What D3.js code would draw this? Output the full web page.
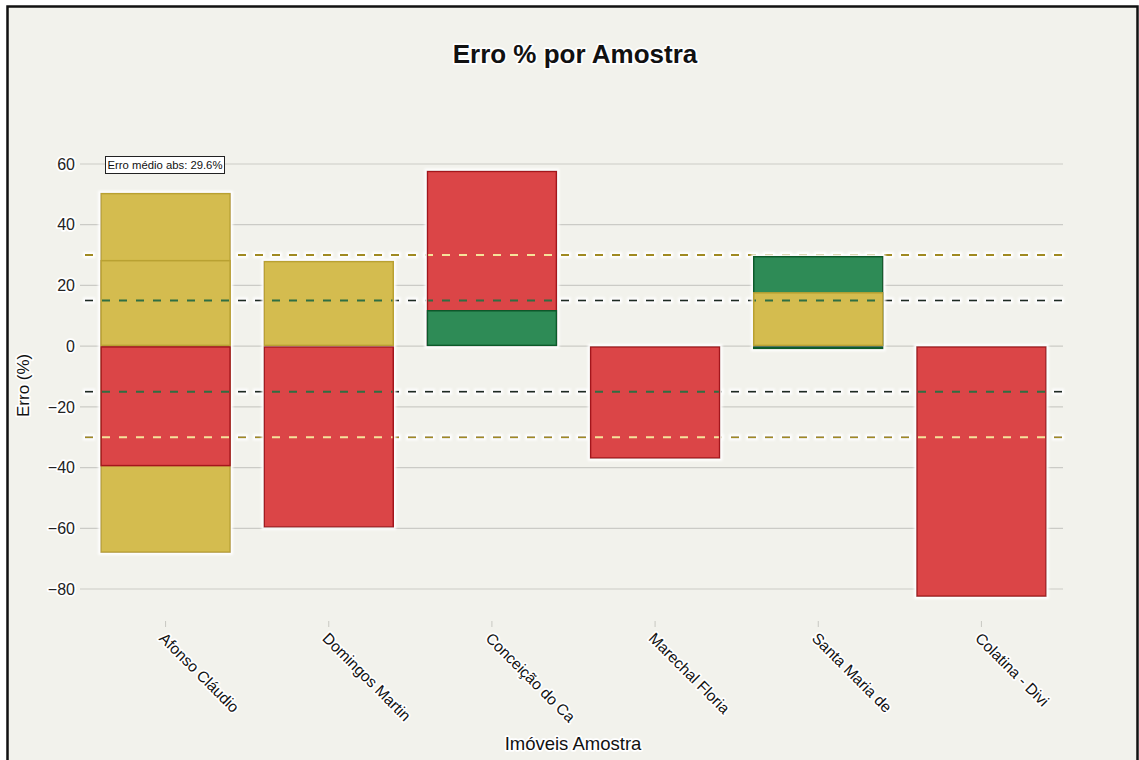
<!DOCTYPE html>
<html>
<head>
<meta charset="utf-8">
<script src="https://cdn.jsdelivr.net/npm/d3@7"></script>
<style>
html,body{margin:0;padding:0;background:#ffffff;}
svg{display:block;font-family:"Liberation Sans",Arial,Helvetica,sans-serif;}
.halo{paint-order:stroke;stroke:#ffffff;stroke-width:3.5px;stroke-linejoin:round;}
</style>
</head>
<body>
<svg id="chart" width="1139" height="760"></svg>
<script>
// ---- data ----
const categories = ["Afonso Cláudio","Domingos Martin","Conceição do Ca","Marechal Floria","Santa Maria de","Colatina - Divi"];
const serie1 = [50.5, 28.1, 57.8, -37.1, 29.7, -82.6];
const serie1Status = ["medio","medio","alto","alto","baixo","alto"];
const serie2 = [28.4, -59.8, 11.9, null, 17.8, null];
const serie2Status = ["medio","alto","baixo",null,"medio",null];
const serie3 = [-68.1, null, null, null, -1.0, null];
const serie3Status = ["medio",null,null,null,"baixo",null];
const serie4 = [-39.6, null, null, null, null, null];
const serie4Status = ["alto",null,null,null,null,null];
const yTicks = [-80,-60,-40,-20,0,20,40,60];
const limiteBaixo = 15;
const limiteMedio = 30;
const erroMedioAbs = 29.6;
const titulo = "Erro % por Amostra";
const eixoX = "Imóveis Amostra";
const eixoY = "Erro (%)";

// ---- styles ----
const fillColor = {alto:"#db4546", medio:"#d4bc4f", baixo:"#2e8b57"};
const edgeColor = {alto:"#a3181c", medio:"#b9a133", baixo:"#0f5a2c"};

const svg = d3.select("#chart");
const defs = svg.append("defs");
const f = defs.append("filter").attr("id","glow").attr("x","-10%").attr("y","-10%").attr("width","120%").attr("height","120%");
f.append("feMorphology").attr("in","SourceAlpha").attr("operator","dilate").attr("radius",2.2).attr("result","d");
f.append("feGaussianBlur").attr("in","d").attr("stdDeviation",0.8).attr("result","b");
f.append("feFlood").attr("flood-color","#ffffff").attr("result","w");
f.append("feComposite").attr("in","w").attr("in2","b").attr("operator","in").attr("result","halo");
const fm = f.append("feMerge");
fm.append("feMergeNode").attr("in","halo");
fm.append("feMergeNode").attr("in","SourceGraphic");

// background
svg.append("rect").attr("x",7).attr("y",6).attr("width",1131).attr("height",800).attr("fill","#f2f2ec");

const x = d3.scaleBand().domain(categories).range([84,1063]).paddingInner(0.2).paddingOuter(0.1);
const y = d3.scaleLinear().domain([-80,60]).range([589,164]);
const gx0 = 80, gx1 = 1063;

// gridlines
svg.append("g").selectAll("line").data(yTicks).join("line")
  .attr("x1",gx0).attr("x2",gx1).attr("y1",d=>y(d)).attr("y2",d=>y(d))
  .attr("stroke","#cbcbc6").attr("stroke-width",1.2);

// y tick labels
svg.append("g").selectAll("text").data(yTicks).join("text")
  .attr("class","halo")
  .attr("x",75).attr("y",d=>y(d)).attr("dy","0.36em")
  .attr("text-anchor","end").attr("font-size",16).attr("fill","#222")
  .text(d=>d<0? "\u2212"+Math.abs(d) : d);

// threshold lines (base, beneath bars)
const thresholds = [
  {v: limiteMedio, out:"#a08a22", over:"#f6e29a"},
  {v: -limiteMedio, out:"#a08a22", over:"#f6e29a"},
  {v: limiteBaixo, out:"#1c2b20", over:"#2f6e42"},
  {v: -limiteBaixo, out:"#1c2b20", over:"#2f6e42"}
];
svg.append("g").attr("filter","url(#glow)").selectAll("line").data(thresholds).join("line")
  .attr("x1",85).attr("x2",gx1).attr("y1",d=>y(d.v)).attr("y2",d=>y(d.v))
  .attr("stroke",d=>d.out).attr("stroke-width",2).attr("stroke-dasharray","8,9");

// bars
const series = [
  {vals: serie1, st: serie1Status},
  {vals: serie2, st: serie2Status},
  {vals: serie3, st: serie3Status},
  {vals: serie4, st: serie4Status}
];
const bars = [];
series.forEach((s,si)=>{
  s.vals.forEach((v,i)=>{ if(v!==null) bars.push({cat:categories[i], v:v, st:s.st[i], order:si}); });
});
const barG = svg.append("g").attr("filter","url(#glow)");
barG.selectAll("rect").data(bars).join("rect")
  .attr("x",d=>x(d.cat)+0.75)
  .attr("width",x.bandwidth()-1.5)
  .attr("y",d=>Math.min(y(d.v),y(0))+0.75)
  .attr("height",d=>Math.max(Math.abs(y(d.v)-y(0))-1.5,0.5))
  .attr("fill",d=>fillColor[d.st])
  .attr("stroke",d=>edgeColor[d.st]).attr("stroke-width",1.5);

// threshold segments over bars
const segs = [];
categories.forEach(c=>{
  thresholds.forEach(t=>{
    const covering = bars.filter(b=>b.cat===c && ((t.v>0 && b.v>=t.v) || (t.v<0 && b.v<=t.v)));
    if(covering.length){
      const top = covering[covering.length-1];
      if(!(Math.abs(t.v)===limiteMedio && top.st==="medio")) segs.push({cat:c, t:t});
    }
  });
});
svg.append("g").selectAll("line").data(segs).join("line")
  .attr("x1",d=>x(d.cat)+1.5).attr("x2",d=>x(d.cat)+x.bandwidth()-1.5)
  .attr("y1",d=>y(d.t.v)).attr("y2",d=>y(d.t.v))
  .attr("stroke",d=>d.t.over).attr("stroke-width",2)
  .attr("stroke-dasharray","8,9").attr("stroke-dashoffset",d=>((x(d.cat)+1.5-85)%17));

// zero line
svg.append("line").attr("filter","url(#glow)")
  .attr("x1",85).attr("x2",gx1).attr("y1",y(0)).attr("y2",y(0))
  .attr("stroke","#111").attr("stroke-width",2.2);

// x ticks and labels
const xt = svg.append("g");
xt.selectAll("line").data(categories).join("line")
  .attr("x1",d=>x(d)+x.bandwidth()/2).attr("x2",d=>x(d)+x.bandwidth()/2)
  .attr("y1",621).attr("y2",627).attr("stroke","#c8c8c2").attr("stroke-width",1);
xt.selectAll("text").data(categories).join("text")
  .attr("class","halo")
  .attr("transform",d=>`translate(${x(d)+x.bandwidth()/2+1},${631}) rotate(45)`)
  .attr("dy","0.75em")
  .attr("font-size",15.5).attr("fill","#111")
  .text(d=>d);

// axis titles
svg.append("text").attr("class","halo").attr("x",573).attr("y",750).attr("text-anchor","middle")
  .attr("font-size",18.5).attr("fill","#111").text(eixoX);
svg.append("text").attr("class","halo").attr("transform","translate(29,417) rotate(-90)").attr("text-anchor","start")
  .attr("font-size",17).attr("fill","#111").text(eixoY);

// title
svg.append("text").attr("class","halo").attr("x",575).attr("y",63).attr("text-anchor","middle")
  .attr("font-size",26).attr("font-weight","bold").attr("fill","#111").text(titulo);

// annotation
const ann = svg.append("g");
ann.append("rect").attr("x",105.5).attr("y",156.5).attr("width",119).attr("height",17)
  .attr("fill","#ffffff").attr("stroke","#222").attr("stroke-width",1);
ann.append("text").attr("x",165).attr("y",169.3).attr("text-anchor","middle")
  .attr("font-size",11.3).attr("fill","#111").text("Erro médio abs: " + erroMedioAbs + "%");

// frame
svg.append("rect").attr("x",7.5).attr("y",6.5).attr("width",1130).attr("height",800)
  .attr("fill","none").attr("stroke","#111").attr("stroke-width",2.5);
</script>
</body>
</html>
